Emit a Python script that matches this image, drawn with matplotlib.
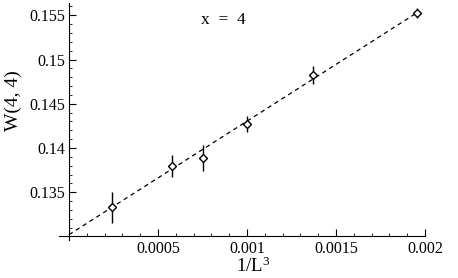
import numpy as np
import matplotlib
matplotlib.use("Agg")
import matplotlib.pyplot as plt
from matplotlib.ticker import AutoMinorLocator

# data
inv_L3 = [1 / 4096, 1 / 1728, 1 / 1331, 1 / 1000, 1 / 729, 1 / 512]
W44 = [0.1333, 0.1380, 0.13889, 0.1427, 0.14828, 0.15526]
W44_err = [0.00178, 0.00124, 0.00147, 0.0009, 0.001, 0.0006]

# fitted straight line
fit_a = 0.1302
fit_b = 12.83

xticks = [0.0005, 0.001, 0.0015, 0.002]
xtick_labels = ["0.0005", "0.001", "0.0015", "0.002"]
yticks = [0.135, 0.14, 0.145, 0.15, 0.155]
ytick_labels = ["0.135", "0.14", "0.145", "0.15", "0.155"]

plt.rcParams['font.family'] = ['Liberation Serif', 'DejaVu Serif']
plt.rcParams['mathtext.fontset'] = 'custom'
plt.rcParams['mathtext.rm'] = 'Liberation Serif'

fig = plt.figure(figsize=(4.58, 2.78), dpi=100)
ax = fig.add_axes([0.1288, 0.1367, 0.799, 0.8525])

xs = np.array([0, 1 / 512])
ax.plot(xs, fit_a + fit_b * xs, ls=(0, (3.5, 3)), color="black", lw=0.9)
ax.errorbar(inv_L3, W44, yerr=W44_err, fmt="D", mfc="white", mec="black",
            ms=4.2, mew=1.0, ecolor="black", elinewidth=1.0, capsize=0)

ax.set_xlim(-0.000056, 0.002)
ax.set_ylim(0.1296, 0.15639)

ax.spines["top"].set_visible(False)
ax.spines["right"].set_visible(False)
ax.spines["left"].set_position(("data", 0))
ax.spines["bottom"].set_position(("data", 0.13))

ax.set_xticks(xticks)
ax.set_xticklabels(xtick_labels)
ax.set_yticks(yticks)
ax.set_yticklabels(ytick_labels)
ax.xaxis.set_minor_locator(AutoMinorLocator(5))
ax.yaxis.set_minor_locator(AutoMinorLocator(5))
ax.tick_params(which="major", direction="in", length=5, width=0.8, labelsize=11.5, pad=3)
ax.tick_params(which="minor", direction="in", length=2.5, width=0.6)

ax.set_xlabel(r"$\mathregular{1/L^3}$", fontsize=13.5)
ax.xaxis.set_label_coords(0.53, -0.072)
ax.set_ylabel("W(4, 4)", fontsize=14)
ax.yaxis.set_label_coords(-0.10, 0.59)

ax.text(0.00087, 0.15444, "x  =  4", ha="center", va="center", fontsize=12.5)

fig.savefig("out.png", dpi=100)
